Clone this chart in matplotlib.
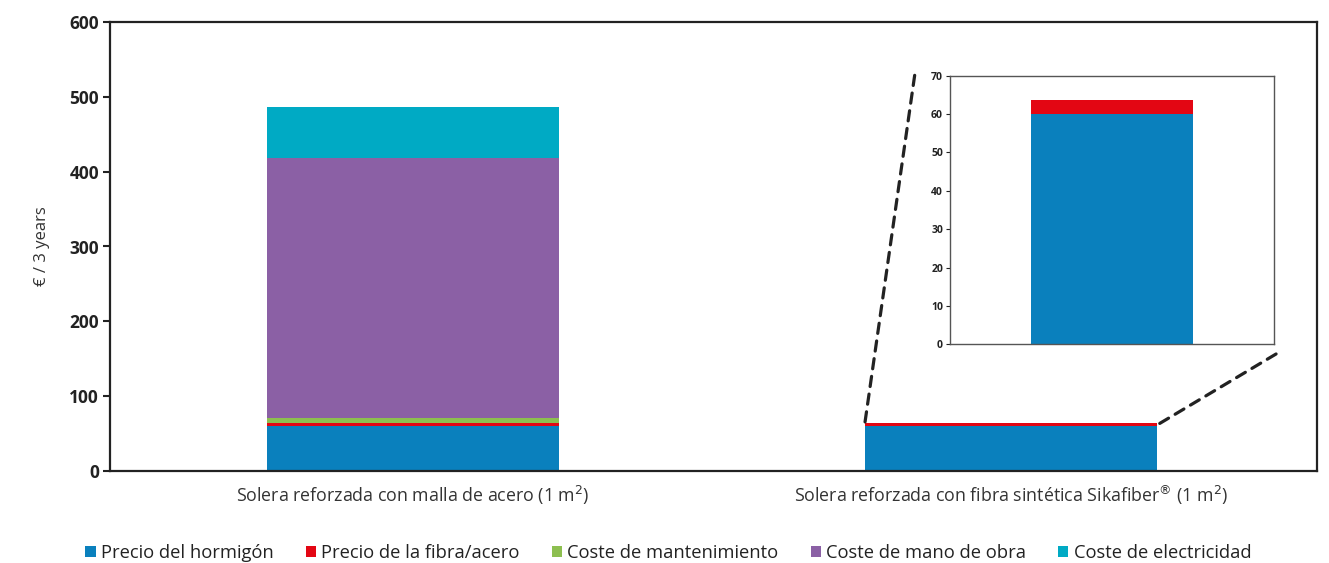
import matplotlib
matplotlib.use("Agg")
import matplotlib.pyplot as plt
from matplotlib.patches import ConnectionPatch, Patch
import numpy as np

plt.rcParams['font.family'] = ['Open Sans', 'DejaVu Sans']

# Data
categories = ["Solera reforzada con malla de acero (1 m$^2$)",
              "Solera reforzada con fibra sintética Sikafiber$^{®}$ (1 m$^2$)"]
components = ["Precio del hormigón", "Precio de la fibra/acero",
              "Coste de mantenimiento", "Coste de mano de obra",
              "Coste de electricidad"]
colors = ["#0A80BD", "#E30613", "#8DBF50", "#8B60A5", "#00AAC4"]
values = {
    "Precio del hormigón":    [60, 60],
    "Precio de la fibra/acero": [3.6, 3.6],
    "Coste de mantenimiento": [6.7, 0],
    "Coste de mano de obra":  [348, 0],
    "Coste de electricidad":  [68, 0],
}
main_ticks = [0, 100, 200, 300, 400, 500, 600]
inset_ticks = [0, 10, 20, 30, 40, 50, 60, 70]

fig = plt.figure(figsize=(13.29, 5.63), dpi=100)
W, H = 1329, 563
ax = fig.add_axes([110 / W, 1 - 471 / H, (1317 - 110) / W, (471 - 22) / H])

x = np.arange(len(categories))
width = 0.488
bottom = np.zeros(len(categories))
for name, col in zip(components, colors):
    v = np.array(values[name], dtype=float)
    ax.bar(x, v, width, bottom=bottom, color=col, linewidth=0)
    bottom += v

ax.set_xlim(-0.507, 1.512)
ax.set_ylim(0, 600)
ax.set_yticks(main_ticks)
ax.tick_params(axis='y', direction='out', length=5, width=1.5, colors='#222222',
               labelsize=12.5, pad=3)
for lab in ax.get_yticklabels():
    lab.set_fontweight('bold')
ax.set_xticks(x)
ax.set_xticklabels(categories, fontsize=12.8, color='#333333')
ax.tick_params(axis='x', length=0, pad=9)
for sp in ax.spines.values():
    sp.set_linewidth(1.6)
    sp.set_color('#222222')
ax.set_ylabel("€ / 3 years", fontsize=12, color='#333333', labelpad=14)

# Zoomed view of the fibre-reinforced slab
axin = fig.add_axes([950 / W, 1 - 344.3 / H, (1274 - 950) / W, (344.3 - 75.7) / H])
b2 = 0.0
for name, col in zip(components, colors):
    v = values[name][1]
    if v > 0:
        axin.bar(0, v, 1.0, bottom=b2, color=col, linewidth=0)
        b2 += v
axin.set_xlim(-1, 1)
axin.set_ylim(0, 70)
axin.set_yticks(inset_ticks)
axin.set_xticks([])
axin.tick_params(axis='y', direction='out', length=3, width=0.8, colors='#222222',
                 labelsize=7.5, pad=2)
for lab in axin.get_yticklabels():
    lab.set_fontweight('bold')
for sp in axin.spines.values():
    sp.set_linewidth(1.0)
    sp.set_color('#555555')

# Dashed connectors from the small bar to the zoomed view
total2 = sum(values[n][1] for n in components)
for xy_a, xy_b in [((1 - width / 2, total2 + 2), (-0.108, 1.01)),
                   ((1 + width / 2 + 0.005, total2), (1.012, -0.032))]:
    con = ConnectionPatch(xyA=xy_a, coordsA=ax.transData,
                          xyB=xy_b, coordsB=axin.transAxes,
                          linestyle=(0, (3.2, 2.4)), linewidth=2.3, color='#222222')
    fig.add_artist(con)

# Legend
handles = [Patch(facecolor=c, edgecolor='none') for c in colors]
fig.legend(handles, components, loc='center', bbox_to_anchor=(0.503, 1 - 553 / H),
           ncol=5, frameon=False, fontsize=13.2, handlelength=0.55, handleheight=0.55,
           handletextpad=0.3, columnspacing=1.75, labelcolor='#222222')

fig.savefig("out.png", dpi=100)
